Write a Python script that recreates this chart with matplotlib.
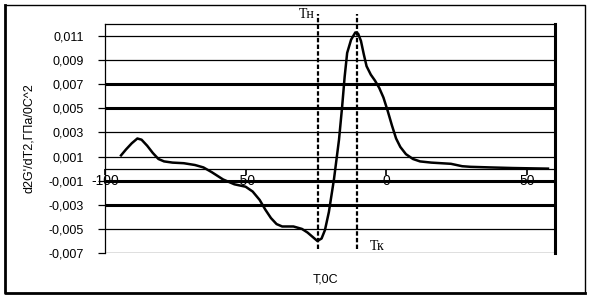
import matplotlib
matplotlib.use("Agg")
import matplotlib.pyplot as plt
from matplotlib.lines import Line2D

plt.rcParams['font.family'] = ['Liberation Sans', 'DejaVu Sans']

# data
temps = [-94.3, -92.5, -90.5, -88.5, -87.0, -85.0, -83.0, -81.0, -79.0, -76.0, -72.0,
         -68.0, -65.0, -62.0, -58.0, -54.0, -50.0, -47.5, -45.0, -43.0, -41.0, -39.0,
         -37.0, -33.0, -30.0, -28.0, -26.0, -24.5, -23.0, -21.8, -20.4, -18.6, -16.8,
         -15.7, -14.8, -13.9, -12.5, -11.0, -10.0, -9.0, -8.0, -7.0, -5.5, -4.0, -2.5,
         -1.0, 0.5, 2.0, 3.5, 5.0, 7.0, 9.5, 12.0, 16.0, 23.0, 27.0, 30.0, 37.0, 45.0, 57.5]
d2g = [0.0011, 0.0016, 0.0021, 0.0025, 0.0024, 0.0019, 0.0013, 0.0008, 0.0006, 0.0005,
       0.00045, 0.0003, 0.0001, -0.0003, -0.0009, -0.0013, -0.0015, -0.0019, -0.0026,
       -0.0034, -0.0041, -0.0046, -0.0048, -0.0048, -0.0050, -0.0053, -0.0057, -0.0060,
       -0.0058, -0.0051, -0.0036, -0.0009, 0.0024, 0.0051, 0.0076, 0.0096, 0.0107, 0.0113,
       0.0112, 0.0106, 0.0095, 0.0085, 0.0078, 0.0073, 0.0067, 0.0059, 0.0048, 0.0036,
       0.0025, 0.0018, 0.0012, 0.0008, 0.0006, 0.0005, 0.0004, 0.0002, 0.00015, 0.0001,
       0.00005, 0.0000]
t_start = -24.3
t_end = -10.4
y_ticks = [-0.007, -0.005, -0.003, -0.001, 0.001, 0.003, 0.005, 0.007, 0.009, 0.011]
y_ticklabels = ["-0,007", "-0,005", "-0,003", "-0,001", "0,001", "0,003", "0,005",
                "0,007", "0,009", "0,011"]
x_ticks = [-100, -50, 0, 50]
x_ticklabels = ["-100", "-50", "0", "50"]
thick_grid = [0.007, 0.005, -0.001, -0.003]

W, H = 591, 298
fig = plt.figure(figsize=(W / 100, H / 100), dpi=100)
ax = fig.add_axes([105 / W, 1 - 253 / H, (555 - 105) / W, (253 - 24) / H])

ax.set_xlim(-100, 60)
ax.set_ylim(-0.007, 0.012)

for yv in y_ticks:
    ax.axhline(yv, color='black', lw=2.2 if yv in thick_grid else 0.9, zorder=1)

ax.plot(temps, d2g, color='black', lw=1.8, zorder=3, solid_joinstyle='round')

ax.set_yticks(y_ticks)
ax.set_yticklabels(y_ticklabels, fontsize=9)
ax.set_xticks(x_ticks)
ax.set_xticklabels(x_ticklabels, fontsize=9)
ax.tick_params(axis='y', length=5, width=0.9, pad=10)
ax.tick_params(axis='x', length=4, width=1.2, pad=0)

ax.spines['bottom'].set_position(('data', 0))
ax.spines['bottom'].set_linewidth(0.9)
ax.spines['left'].set_linewidth(0.9)
ax.spines['top'].set_linewidth(0.9)
ax.spines['right'].set_linewidth(2.2)

ax.set_ylabel("d2G'/dT2,ГПа/0С^2", fontsize=9, labelpad=10)
ax.set_xlabel("Т,0С", fontsize=9)
ax.xaxis.set_label_coords(0.49, -0.09)

# dashed vertical markers extending above the plot area
for xv in (t_start, t_end):
    ax.plot([xv, xv], [-0.0067, 0.0128], color='black', lw=1.6,
            linestyle=(0, (2, 1)), clip_on=False, zorder=4)
ax.text(t_start - 1.0, 0.0128, "Тн", fontsize=10, ha='right', va='center',
        family=['Liberation Serif', 'DejaVu Serif'])
ax.text(t_end + 4.5, -0.0065, "Тк", fontsize=10, ha='left', va='center',
        family=['Liberation Serif', 'DejaVu Serif'])

# outer frame
fig.add_artist(Line2D([5 / W, 585 / W, 585 / W], [1 - 5 / H, 1 - 5 / H, 1 - 293 / H],
                      transform=fig.transFigure, color='black', lw=1.0))
fig.add_artist(Line2D([5 / W, 5 / W, 585 / W], [1 - 5 / H, 1 - 293 / H, 1 - 293 / H],
                      transform=fig.transFigure, color='black', lw=2.0))

fig.savefig("out.png", dpi=100)
